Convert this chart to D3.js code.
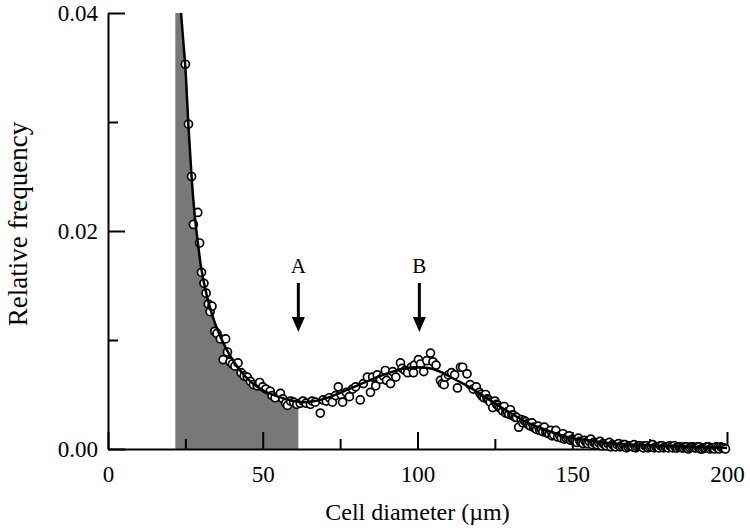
<!DOCTYPE html>
<html>
<head>
<meta charset="utf-8">
<script src="https://cdn.jsdelivr.net/npm/d3@7"></script>
<style>
  html, body { margin: 0; padding: 0; background: #fff; }
  svg { display: block; font-family: "Liberation Serif", "Times New Roman", serif; }
</style>
</head>
<body>
<div id="chart"></div>
<script>
// --- Data ---
const xDomain = [0, 200];
const yDomain = [0, 0.04];
const xMajorTicks = [0, 50, 100, 150, 200];
const xMinorTicks = [25, 75, 125, 175];
const yMajorTicks = [0, 0.02, 0.04];
const yMinorTicks = [0.01, 0.03];
const xTitle = "Cell diameter (\u00b5m)";
const yTitle = "Relative frequency";

// shaded band (small cells) on the diameter axis
const shadeRange = [21.7, 61.5];

// arrow markers
const markerLabels = ["A", "B"];
const markerX = [61.5, 100.6];

// fitted curve [diameter, frequency]
const fitCurve = [
  [23.6, 0.0400], [24.3, 0.0375], [25, 0.0350], [26, 0.0296], [27, 0.0250],
  [28, 0.0215], [29, 0.0190], [30, 0.0168], [32, 0.0140], [34, 0.0120],
  [36, 0.0105], [38, 0.0093], [40, 0.0083], [43, 0.0071], [46, 0.0062],
  [50, 0.0054], [55, 0.0048], [60, 0.0044], [63, 0.0043], [67, 0.0044],
  [72, 0.0048], [77, 0.0054], [82, 0.0060], [87, 0.0066], [92, 0.0071],
  [96, 0.0074], [100, 0.0075], [104, 0.0074], [108, 0.0070], [112, 0.0064],
  [116, 0.0058], [120, 0.0051], [125, 0.0042], [130, 0.0033], [135, 0.0025],
  [140, 0.0019], [145, 0.0014], [150, 0.0010], [155, 0.0008], [160, 0.0006],
  [170, 0.0004], [180, 0.0003], [190, 0.0002], [200, 0.0001]
];

// measured points [diameter, frequency]
const measured = [
  [25, 0.0353], [26, 0.0298], [27, 0.0250], [27.6, 0.0206], [29, 0.0217],
  [29.6, 0.0189], [30.2, 0.0162], [31, 0.0152], [31.7, 0.0143], [32.4, 0.0133],
  [33, 0.0126], [33.6, 0.0131], [34.5, 0.0108], [35.2, 0.0106], [36.3, 0.0101],
  [37.2, 0.0082], [38, 0.0101], [38.6, 0.0089], [39.4, 0.0080], [40.2, 0.0078],
  [41, 0.0076], [42, 0.0079], [43, 0.0070], [44, 0.0067], [45, 0.0066],
  [46, 0.0062], [47, 0.0059], [48.2, 0.0058], [49, 0.0061], [50, 0.0057],
  [51, 0.0055], [52.4, 0.0053], [53, 0.0049], [54, 0.0047], [55.7, 0.0051],
  [56.5, 0.0046], [57.4, 0.0042], [58, 0.0040], [59, 0.0044], [60, 0.0043],
  [61, 0.0041], [62.1, 0.0042], [63, 0.0044], [64, 0.0042], [65.4, 0.0041],
  [66, 0.0044], [67, 0.0043], [68.6, 0.0033], [69.5, 0.0045], [70.5, 0.0044],
  [71.5, 0.0047], [72.5, 0.0043], [73.5, 0.0049], [74.4, 0.0057], [75.3, 0.0050],
  [75.8, 0.0043], [77, 0.0052], [78, 0.0048], [79, 0.0055], [80, 0.0057],
  [81.5, 0.0045], [82.5, 0.0060], [83.8, 0.0066], [84.8, 0.0052], [85.5, 0.0066],
  [86.5, 0.0058], [87, 0.0068], [88, 0.0064], [89, 0.0067], [89.6, 0.0072],
  [90, 0.0063], [91.3, 0.0060], [92, 0.0071], [93, 0.0066], [94.5, 0.0079],
  [95, 0.0074], [96, 0.0072], [96.8, 0.0070], [98, 0.0075], [98.7, 0.0070],
  [99, 0.0077], [100.3, 0.0082], [101, 0.0078], [102, 0.0071], [103, 0.0081],
  [104.2, 0.0088], [105, 0.0080], [106, 0.0077], [107.4, 0.0063], [108, 0.0060],
  [108.6, 0.0059], [109, 0.0066], [110, 0.0068], [111, 0.0070], [112, 0.0068],
  [112.9, 0.0056], [113.9, 0.0075], [114.6, 0.0075], [116, 0.0069], [117, 0.0059],
  [118, 0.0055], [119, 0.0057], [120, 0.0052], [120.5, 0.0050], [121, 0.0048],
  [121.5, 0.0047], [122, 0.0050], [122.5, 0.0046], [123, 0.0045], [123.5, 0.0043],
  [124.3, 0.0038], [125, 0.0044], [125.5, 0.0041], [126, 0.0040], [126.5, 0.0038],
  [127, 0.0037], [127.5, 0.0035], [128, 0.0039], [128.5, 0.0033], [129, 0.0034],
  [129.5, 0.0032], [130, 0.0036], [130.5, 0.0031], [131, 0.0031], [131.5, 0.0029],
  [132, 0.0029], [132.7, 0.0020], [133.5, 0.0027], [134, 0.0024], [134.5, 0.0026],
  [135, 0.0025], [135.5, 0.0023], [136, 0.0022], [136.5, 0.0021], [137, 0.0024],
  [137.5, 0.0020], [138, 0.0019], [138.5, 0.0018], [139, 0.0021], [139.5, 0.0017],
  [140, 0.0018], [140.5, 0.0016], [141, 0.0020], [141.5, 0.0015], [142, 0.0015],
  [142.5, 0.0014], [143, 0.0017], [143.5, 0.0012], [144, 0.0013], [144.7, 0.0017],
  [145.3, 0.0011], [146, 0.0012], [146.5, 0.0010], [147, 0.0014], [147.5, 0.0009],
  [148, 0.0010], [148.5, 0.0011], [149, 0.0012], [149.5, 0.0008], [150, 0.0009],
  [150.5, 0.0008], [151, 0.0007], [151.5, 0.0006], [152, 0.0010], [152.5, 0.0007],
  [153, 0.0006], [153.5, 0.0005], [154, 0.0008], [154.5, 0.0006], [155, 0.0005],
  [155.5, 0.0007], [156, 0.0009], [156.5, 0.0004], [157, 0.0006], [157.5, 0.0005],
  [158, 0.0004], [158.5, 0.0006], [159, 0.0007], [159.5, 0.0003], [160, 0.0005],
  [160.5, 0.0004], [161, 0.0003], [161.5, 0.0005], [162, 0.0006], [162.5, 0.0002],
  [163, 0.0004], [163.5, 0.0003], [164, 0.0002], [164.5, 0.0004], [165, 0.0005],
  [165.5, 0.0002], [166, 0.0003], [166.5, 0.0004], [167, 0.0004], [167.5, 0.0001],
  [168, 0.0002], [168.5, 0.0003], [169, 0.0003], [169.5, 0.0002], [170, 0.0004],
  [170.5, 0.0001], [171, 0.0002], [171.5, 0.0003], [172, 0.0003], [172.5, 0.0002],
  [173, 0.0001], [173.5, 0.0003], [174, 0.0003], [174.5, 0.0001], [175, 0.0002],
  [175.5, 0.0003], [176, 0.0004], [176.5, 0.0001], [177, 0.0002], [177.5, 0.0002],
  [178, 0.0001], [178.5, 0.0003], [179, 0.0003], [179.5, 0.0001], [180, 0.0002],
  [180.5, 0.0002], [181, 0.0001], [181.5, 0.0003], [182, 0.0002], [182.5, 0.0001],
  [183, 0.0003], [183.5, 0.0001], [184, 0.0001], [184.5, 0.0002], [185, 0.0002],
  [185.5, 0.0001], [186, 0.0001], [186.5, 0.0002], [187, 0.0002], [187.5, 0.0000],
  [188, 0.0001], [188.5, 0.0002], [189, 0.0002], [189.5, 0.0001], [190, 0.0001],
  [190.5, 0.0002], [191, 0.0002], [191.5, 0.0000], [192, 0.0000], [192.5, 0.0001],
  [193, 0.0001], [193.5, 0.0002], [194, 0.0002], [194.5, 0.0000], [195, 0.0001],
  [195.5, 0.0001], [196, 0.0000], [196.5, 0.0002], [197, 0.0001], [197.5, 0.0000],
  [198, 0.0002], [198.5, 0.0001], [199, 0.0001], [199.5, 0.0000]
];

// --- Layout ---
const width = 750, height = 531;
const margin = { top: 13, right: 23, bottom: 82, left: 108 };

const svg = d3.select("#chart").append("svg")
    .attr("width", width)
    .attr("height", height);

const x = d3.scaleLinear().domain(xDomain).range([margin.left, width - margin.right]);
const y = d3.scaleLinear().domain(yDomain).range([height - margin.bottom, margin.top]);

// shaded area under the curve, clipped to the band
svg.append("clipPath").attr("id", "shade-clip")
  .append("rect")
    .attr("x", x(shadeRange[0]))
    .attr("y", y(yDomain[1]))
    .attr("width", x(shadeRange[1]) - x(shadeRange[0]))
    .attr("height", y(0) - y(yDomain[1]));

const area = d3.area()
    .x(d => x(d[0]))
    .y0(y(0))
    .y1(d => y(Math.min(d[1], yDomain[1])))
    .curve(d3.curveMonotoneX);

svg.append("path")
    .datum([[shadeRange[0], yDomain[1]]].concat(fitCurve))
    .attr("clip-path", "url(#shade-clip)")
    .attr("fill", "#787878")
    .attr("d", area);

// axes
const axisG = svg.append("g").attr("class", "axes");

axisG.append("g")
    .attr("transform", `translate(0,${y(0)})`)
    .call(d3.axisBottom(x).tickValues(xMajorTicks).tickSize(-17).tickSizeOuter(0).tickPadding(17));
axisG.append("g")
    .attr("transform", `translate(0,${y(0)})`)
    .call(d3.axisBottom(x).tickValues(xMinorTicks).tickSize(-10).tickSizeOuter(0).tickFormat(""))
    .call(g => g.select(".domain").remove());

axisG.append("g")
    .attr("transform", `translate(${x(0)},0)`)
    .call(d3.axisLeft(y).tickValues(yMajorTicks).tickSize(-17).tickSizeOuter(0).tickPadding(10)
      .tickFormat(d3.format(".2f")));
axisG.append("g")
    .attr("transform", `translate(${x(0)},0)`)
    .call(d3.axisLeft(y).tickValues(yMinorTicks).tickSize(-10).tickSizeOuter(0).tickFormat(""))
    .call(g => g.select(".domain").remove());

axisG.selectAll(".domain, .tick line")
    .attr("stroke", "#000")
    .attr("stroke-width", 2);
axisG.selectAll(".tick text")
    .attr("fill", "#000")
    .style("font-family", "'Liberation Serif', serif")
    .style("font-size", "23px");

// axis titles
svg.append("text")
    .attr("x", (x(0) + x(200)) / 2)
    .attr("y", 520)
    .attr("text-anchor", "middle")
    .style("font-size", "24px")
    .text(xTitle);

svg.append("text")
    .attr("transform", `translate(27,224) rotate(-90)`)
    .attr("text-anchor", "middle")
    .style("font-size", "27px")
    .text(yTitle);

// measured points
svg.append("g")
  .selectAll("circle")
  .data(measured)
  .join("circle")
    .attr("cx", d => x(d[0]))
    .attr("cy", d => y(d[1]))
    .attr("r", 4)
    .attr("fill", "#fff")
    .attr("stroke", "#000")
    .attr("stroke-width", 1.7);

// fitted line
const line = d3.line()
    .x(d => x(d[0]))
    .y(d => y(d[1]))
    .curve(d3.curveMonotoneX);

svg.append("path")
    .datum(fitCurve)
    .attr("fill", "none")
    .attr("stroke", "#000")
    .attr("stroke-width", 2.5)
    .attr("d", line);

// arrows A and B
const markers = markerLabels.map((label, i) => ({ label: label, x: markerX[i] }));
const mk = svg.append("g").selectAll("g").data(markers).join("g")
    .attr("transform", d => `translate(${x(d.x)},0)`);

mk.append("text")
    .attr("y", 273)
    .attr("text-anchor", "middle")
    .style("font-size", "21px")
    .text(d => d.label);

mk.append("line")
    .attr("y1", 283)
    .attr("y2", 320)
    .attr("stroke", "#000")
    .attr("stroke-width", 3);

mk.append("path")
    .attr("d", "M-6.5,317 L6.5,317 L0,332 Z")
    .attr("fill", "#000");
</script>
</body>
</html>
